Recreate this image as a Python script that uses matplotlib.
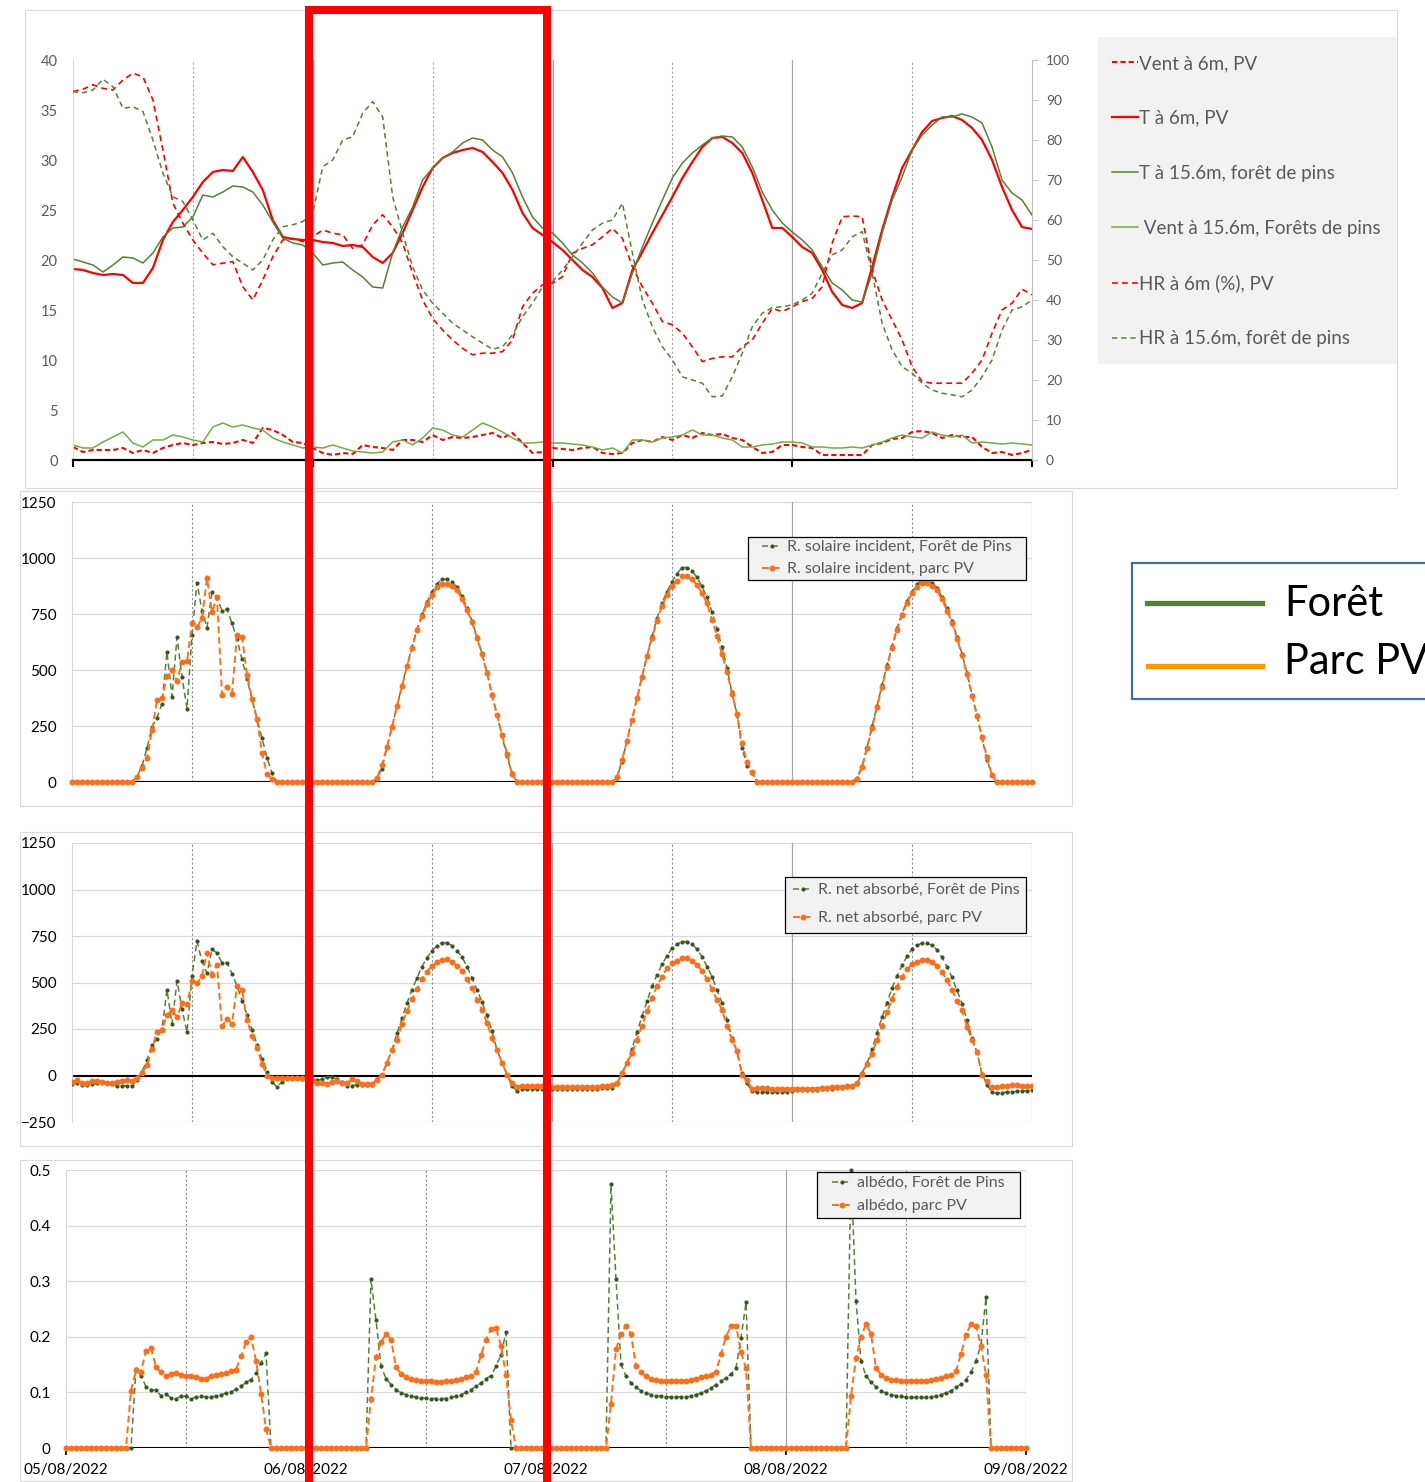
import numpy as np
import matplotlib.pyplot as plt
from matplotlib.patches import Rectangle
from matplotlib.lines import Line2D

plt.rcParams['font.family'] = ['Lato', 'DejaVu Sans']

# --- DONNEES (pas horaire pour le panneau du haut, 05/08 00h -> 09/08 00h) ---
t_pv = [19.1, 19.0, 18.7, 18.5, 18.6, 18.5, 17.7, 17.7, 19.2, 22.0,
        23.8, 25.0, 26.3, 27.8, 28.8, 29.0, 28.9, 30.3, 28.8, 27.0,
        24.0, 22.3, 22.1, 22.0, 22.0, 21.8, 21.7, 21.4, 21.5, 21.3,
        20.3, 19.7, 20.7, 22.7, 25.0, 27.3, 29.2, 30.2, 30.7, 31.0,
        31.2, 30.8, 29.8, 28.7, 27.0, 24.7, 23.2, 22.5, 21.8, 21.0,
        20.0, 19.0, 18.3, 17.2, 15.2, 15.7, 19.0, 20.8, 22.7, 24.5,
        26.3, 28.2, 29.8, 31.3, 32.2, 32.3, 31.7, 30.7, 28.7, 26.0,
        23.2, 23.2, 22.3, 21.3, 20.7, 19.0, 16.8, 15.5, 15.2, 15.7,
        19.3, 23.0, 26.3, 29.2, 31.0, 32.8, 33.9, 34.2, 34.4, 34.0,
        33.2, 32.0, 30.0, 27.3, 25.0, 23.3, 23.1]
t_foret = [20.1, 19.8, 19.5, 18.8, 19.5, 20.3, 20.2, 19.7, 20.7, 22.3,
           23.2, 23.3, 24.3, 26.5, 26.3, 26.8, 27.4, 27.3, 26.8, 25.5,
           23.8, 22.2, 21.7, 21.5, 20.7, 19.5, 19.7, 19.8, 19.0, 18.3,
           17.3, 17.2, 20.7, 23.3, 25.3, 28.0, 29.2, 30.2, 30.8, 31.7,
           32.2, 32.0, 31.0, 30.3, 28.7, 26.3, 24.3, 23.2, 22.7, 21.7,
           20.5, 19.7, 18.7, 17.3, 16.3, 15.7, 18.7, 21.3, 23.7, 26.0,
           28.2, 29.7, 30.7, 31.5, 32.2, 32.4, 32.3, 31.3, 29.3, 26.8,
           25.0, 23.7, 22.8, 22.0, 21.0, 19.3, 17.7, 17.0, 16.0, 15.8,
           18.7, 22.7, 26.0, 28.3, 31.0, 32.5, 33.5, 34.3, 34.3, 34.6,
           34.3, 33.7, 31.3, 28.0, 26.7, 26.0, 24.5]
hr_pv = [92.1, 92.7, 93.8, 92.9, 92.5, 95.0, 96.7, 95.8, 90.0, 77.5,
         64.2, 59.2, 55.0, 51.7, 48.8, 49.2, 49.6, 43.3, 40.0, 45.0,
         50.8, 55.0, 55.4, 54.6, 55.8, 57.5, 56.7, 56.3, 52.9, 53.8,
         58.8, 61.3, 58.3, 54.2, 46.7, 40.0, 35.4, 32.5, 30.0, 27.9,
         26.3, 26.7, 26.7, 27.1, 30.0, 38.3, 41.7, 43.8, 44.2, 45.8,
         51.7, 52.9, 53.8, 55.8, 57.9, 55.4, 48.3, 43.3, 39.2, 34.6,
         33.8, 31.7, 28.3, 24.6, 25.4, 25.8, 25.8, 28.3, 30.0, 34.2,
         37.9, 37.1, 38.3, 39.6, 40.4, 43.3, 54.2, 60.8, 61.0, 60.8,
         47.5, 40.0, 35.0, 30.0, 23.3, 19.6, 19.2, 19.2, 19.2, 19.2,
         21.7, 25.0, 31.7, 37.5, 39.2, 42.7, 41.3]
hr_foret = [92.1, 91.8, 92.5, 95.2, 93.3, 87.9, 88.3, 87.1, 80.0, 71.7,
            65.8, 64.6, 60.0, 55.0, 56.7, 53.3, 50.8, 49.2, 47.5, 50.0,
            55.0, 58.3, 58.8, 59.6, 61.7, 73.3, 75.0, 80.0, 80.8, 86.7,
            89.6, 85.8, 65.8, 56.7, 48.3, 42.5, 39.2, 36.7, 34.2, 32.5,
            30.8, 29.2, 27.7, 28.3, 31.3, 35.8, 39.2, 43.3, 44.6, 47.5,
            50.8, 54.2, 57.5, 59.2, 60.0, 64.2, 51.7, 40.0, 33.3, 28.3,
            25.0, 20.8, 20.0, 19.2, 15.8, 16.0, 20.8, 26.7, 33.3, 36.7,
            38.1, 38.3, 38.8, 40.0, 41.7, 46.7, 51.3, 52.5, 55.8, 57.1,
            46.7, 34.2, 27.5, 23.3, 21.7, 19.2, 17.5, 16.7, 16.3, 15.8,
            17.5, 20.8, 25.0, 32.5, 37.5, 38.3, 40.0]
vent_pv = [1.3, 0.8, 1.0, 1.0, 1.0, 1.2, 0.7, 1.0, 0.7, 1.2,
           1.5, 1.7, 1.5, 1.7, 1.8, 1.6, 1.7, 2.0, 1.7, 3.2,
           3.0, 2.5, 1.8, 1.7, 1.2, 0.7, 0.5, 0.7, 0.6, 1.5,
           1.3, 1.2, 1.0, 2.0, 2.0, 1.8, 2.5, 2.0, 2.3, 2.2,
           2.3, 2.5, 2.7, 2.2, 2.7, 1.7, 0.7, 0.8, 1.2, 1.1,
           1.0, 1.2, 1.3, 0.7, 0.6, 0.7, 1.7, 2.0, 1.8, 2.3,
           2.0, 2.5, 2.2, 2.7, 2.5, 2.6, 2.2, 2.0, 1.3, 0.7,
           0.8, 1.5, 1.5, 1.3, 1.2, 0.5, 0.5, 0.5, 0.5, 0.5,
           1.5, 1.7, 2.1, 2.2, 2.8, 2.9, 2.7, 2.2, 2.5, 2.3,
           2.3, 1.3, 0.7, 0.8, 0.5, 0.7, 1.0]
vent_foret = [1.5, 1.2, 1.2, 1.8, 2.3, 2.8, 1.7, 1.3, 2.0, 2.0,
              2.5, 2.3, 2.0, 1.8, 3.3, 3.7, 3.3, 3.5, 3.2, 3.0,
              2.2, 1.8, 1.5, 1.2, 1.3, 1.2, 1.5, 1.2, 0.9, 0.8,
              0.7, 0.8, 1.8, 2.0, 1.5, 2.2, 3.2, 3.0, 2.5, 2.3,
              3.0, 3.7, 3.3, 2.8, 2.2, 1.7, 1.7, 1.8, 1.7, 1.7,
              1.6, 1.5, 1.3, 1.0, 1.2, 0.7, 2.0, 2.0, 1.8, 2.2,
              2.3, 2.5, 3.0, 2.5, 2.5, 2.2, 2.0, 1.3, 1.3, 1.5,
              1.6, 1.8, 1.8, 1.7, 1.3, 1.3, 1.2, 1.2, 1.3, 1.2,
              1.5, 1.8, 2.2, 2.5, 2.3, 2.2, 2.8, 2.5, 2.3, 2.5,
              1.7, 1.8, 1.7, 1.6, 1.7, 1.6, 1.5]

# --- DONNEES au pas de 30 min : par jour, valeurs de 6h30 (i=13) a 20h00 (i=40) ---
sol_foret_jour = [
    [24, 72, 151, 245, 287, 350, 581, 381, 646, 469, 327, 656, 890, 764, 689, 846, 824, 765, 771, 709, 637, 547, 460, 371, 278, 196, 108, 39],
    [15, 60, 155, 245, 340, 430, 520, 602, 684, 748, 804, 849, 885, 905, 905, 893, 870, 830, 775, 720, 648, 575, 490, 392, 300, 205, 115, 40],
    [20, 90, 185, 278, 374, 469, 562, 650, 730, 800, 850, 895, 930, 957, 957, 943, 913, 873, 824, 759, 682, 604, 507, 400, 300, 151, 73, 40],
    [20, 70, 155, 248, 340, 432, 522, 605, 688, 752, 808, 850, 882, 902, 902, 890, 866, 826, 775, 720, 648, 572, 488, 390, 298, 195, 100, 30]]
sol_pv_jour = [
    [21, 61, 105, 230, 365, 375, 472, 502, 449, 537, 538, 709, 690, 733, 909, 760, 825, 390, 425, 393, 655, 649, 478, 372, 283, 129, 36, 12],
    [18, 75, 158, 245, 338, 428, 517, 598, 679, 740, 794, 834, 869, 882, 884, 873, 857, 816, 767, 715, 643, 570, 486, 389, 299, 211, 126, 36],
    [24, 96, 185, 278, 374, 469, 562, 644, 719, 786, 837, 876, 898, 918, 918, 906, 879, 843, 797, 722, 652, 570, 490, 395, 305, 173, 91, 46],
    [15, 65, 150, 240, 335, 425, 515, 600, 680, 745, 800, 842, 872, 888, 888, 876, 855, 815, 765, 712, 640, 565, 480, 385, 295, 200, 110, 30]]

# rayonnement net : nuit (i=0..12), jour (i=13..40), soir (i=41..47)
net_foret_nuit = [
    [-45, -40, -50, -50, -48, -42, -40, -42, -44, -55, -55, -55, -55],
    [-30, -25, -21, -7, -9, -21, -36, -54, -54, -50, -50, -50, -50],
    [-72, -72, -72, -72, -72, -72, -72, -70, -70, -70, -68, -68, -66],
    [-82, -80, -80, -78, -78, -76, -75, -72, -70, -68, -66, -64, -62]]
net_foret_jour = [
    [-25, 21, 82, 164, 196, 252, 461, 277, 509, 357, 232, 536, 723, 613, 550, 680, 657, 607, 607, 547, 482, 402, 327, 246, 166, 89, 21, -34],
    [-18, 5, 68, 139, 228, 309, 389, 461, 523, 586, 634, 671, 698, 714, 714, 698, 671, 636, 586, 523, 461, 395, 323, 238, 139, 68, 5, -57],
    [-48, 14, 68, 143, 234, 318, 398, 479, 541, 598, 643, 684, 705, 720, 720, 705, 680, 639, 586, 532, 461, 389, 300, 202, 130, 14, -43, -84],
    [-45, 12, 65, 140, 230, 312, 392, 470, 535, 592, 640, 680, 700, 712, 712, 700, 676, 635, 584, 528, 458, 385, 298, 200, 125, 10, -50, -90]]
net_foret_soir = [
    [-61, -34, -12, -12, -15, -18, -25],
    [-84, -75, -72, -72, -72, -72, -72],
    [-89, -89, -89, -89, -89, -89, -89],
    [-95, -92, -90, -88, -86, -84, -82]]
net_pv_nuit = [
    [-34, -25, -38, -40, -32, -29, -34, -40, -40, -34, -30, -25, -29],
    [-25, -39, -43, -48, -36, -30, -39, -39, -21, -30, -48, -48, -48],
    [-62, -62, -62, -62, -62, -62, -62, -62, -60, -60, -58, -55, -52],
    [-72, -72, -72, -70, -70, -70, -68, -66, -64, -62, -60, -58, -55]]
net_pv_jour = [
    [-14, 16, 54, 143, 236, 246, 323, 352, 313, 388, 382, 509, 496, 536, 661, 543, 595, 264, 304, 279, 479, 461, 300, 211, 148, 62, 0, -11],
    [-25, 5, 68, 139, 193, 277, 345, 411, 464, 518, 559, 589, 609, 621, 625, 611, 589, 564, 518, 471, 407, 354, 282, 202, 139, 68, 5, -39],
    [-39, 11, 68, 121, 193, 268, 345, 416, 482, 532, 577, 604, 618, 630, 630, 616, 595, 563, 518, 464, 407, 354, 264, 193, 130, 5, -25, -70],
    [-40, 8, 62, 118, 190, 265, 340, 410, 478, 528, 572, 598, 612, 620, 620, 608, 588, 556, 512, 460, 402, 350, 262, 190, 128, 2, -30, -60]]
net_pv_soir = [
    [-12, -12, -12, -14, -14, -16, -18],
    [-62, -57, -55, -55, -55, -55, -55],
    [-66, -68, -68, -70, -70, -70, -70],
    [-60, -58, -55, -52, -52, -55, -55]]
net_dernier = (-80, -58)

# albedo : valeurs de i=13 a i=41
alb_foret_jour = [
    [0, 0.142, 0.13, 0.11, 0.105, 0.104, 0.094, 0.098, 0.09, 0.088, 0.094, 0.093, 0.089, 0.092, 0.093, 0.092, 0.092, 0.093, 0.095, 0.099, 0.1, 0.106, 0.111, 0.118, 0.123, 0.135, 0.153, 0.17, 0],
    [0.304, 0.23, 0.147, 0.125, 0.114, 0.105, 0.099, 0.096, 0.093, 0.092, 0.09, 0.09, 0.089, 0.089, 0.089, 0.089, 0.091, 0.093, 0.096, 0.1, 0.105, 0.111, 0.117, 0.125, 0.13, 0.147, 0.168, 0.208, 0],
    [0.474, 0.304, 0.151, 0.129, 0.117, 0.109, 0.103, 0.099, 0.096, 0.094, 0.093, 0.092, 0.092, 0.092, 0.092, 0.092, 0.093, 0.096, 0.099, 0.103, 0.108, 0.114, 0.12, 0.126, 0.133, 0.144, 0.198, 0.262, 0],
    [0.5, 0.265, 0.156, 0.13, 0.118, 0.11, 0.102, 0.099, 0.096, 0.094, 0.093, 0.091, 0.091, 0.091, 0.091, 0.091, 0.092, 0.093, 0.096, 0.099, 0.103, 0.109, 0.115, 0.123, 0.136, 0.157, 0.186, 0.271, 0]]
alb_pv_jour = [
    [0.103, 0.14, 0.137, 0.175, 0.18, 0.146, 0.136, 0.13, 0.133, 0.135, 0.131, 0.13, 0.13, 0.128, 0.125, 0.125, 0.129, 0.132, 0.133, 0.134, 0.138, 0.141, 0.165, 0.19, 0.2, 0.157, 0.098, 0.035, 0],
    [0.088, 0.163, 0.19, 0.205, 0.195, 0.146, 0.133, 0.128, 0.125, 0.122, 0.121, 0.12, 0.12, 0.119, 0.119, 0.12, 0.12, 0.122, 0.124, 0.127, 0.13, 0.137, 0.167, 0.195, 0.214, 0.216, 0.183, 0.132, 0.05],
    [0.08, 0.178, 0.205, 0.22, 0.205, 0.147, 0.136, 0.129, 0.125, 0.122, 0.121, 0.121, 0.121, 0.121, 0.121, 0.121, 0.123, 0.125, 0.127, 0.13, 0.132, 0.137, 0.169, 0.2, 0.22, 0.22, 0.173, 0.143, 0],
    [0.093, 0.161, 0.2, 0.223, 0.205, 0.144, 0.132, 0.126, 0.123, 0.122, 0.12, 0.12, 0.12, 0.12, 0.12, 0.12, 0.122, 0.124, 0.126, 0.129, 0.132, 0.138, 0.169, 0.204, 0.223, 0.219, 0.184, 0.132, 0]]

dates = ['05/08/2022', '06/08/2022', '07/08/2022', '08/08/2022', '09/08/2022']


def assemble(debut, jour, fin, dernier):
    serie = []
    for d in range(4):
        serie += debut[d] + jour[d] + fin[d]
    return np.array(serie + [dernier], dtype=float)


zeros_nuit = [[0] * 13] * 4
sol_foret = assemble(zeros_nuit, sol_foret_jour, [[0] * 7] * 4, 0)
sol_pv = assemble(zeros_nuit, sol_pv_jour, [[0] * 7] * 4, 0)
net_foret = assemble(net_foret_nuit, net_foret_jour, net_foret_soir, net_dernier[0])
net_pv = assemble(net_pv_nuit, net_pv_jour, net_pv_soir, net_dernier[1])
alb_foret = assemble(zeros_nuit, alb_foret_jour, [[0] * 6] * 4, 0)
alb_pv = assemble(zeros_nuit, alb_pv_jour, [[0] * 6] * 4, 0)

x_h = np.arange(len(t_pv)) / 24
x_d = np.arange(len(sol_pv)) / 48

# --- FIGURE ---
W, H = 1425, 1482
fig = plt.figure(figsize=(W / 100, H / 100), dpi=100)


def fx(px):
    return px / W


def fy(py):
    return 1 - py / H


def box(x0, y0, x1, y1):
    return [fx(x0), fy(y1), fx(x1) - fx(x0), fy(y0) - fy(y1)]


def cadre(x0, y0, x1, y1, **kw):
    r = Rectangle((fx(x0), fy(y1)), fx(x1) - fx(x0), fy(y0) - fy(y1),
                  transform=fig.transFigure, **kw)
    fig.add_artist(r)
    return r


cadre(25, 10, 1397, 488, fill=False, ec='#D9D9D9', lw=0.8, zorder=-2)
cadre(1098, 37, 1397, 364, fc='#F2F2F2', ec='none', zorder=-1)
for y0, y1 in [(491, 806), (832, 1146), (1160, 1481)]:
    cadre(20, y0, 1072, y1, fill=False, ec='#D9D9D9', lw=0.8, zorder=-2)

GRIS = '#595959'
VERT = '#548235'
VERT_CLAIR = '#70AD47'
ROUGE = '#FF0000'
ORANGE = '#FF6F1A'
VERT_FONCE = '#375623'

# --- panneau du haut ---
ax1 = fig.add_axes(box(73, 60, 1032, 460))
ax1b = ax1.twinx()
for j in [0.5, 1.5, 2.5, 3.5]:
    ax1.axvline(j, color='#A6A6A6', lw=0.8, ls=(0, (2, 2)), zorder=0)
for j in [1, 2, 3]:
    ax1.axvline(j, color='#A6A6A6', lw=0.9, zorder=0)

l1, = ax1.plot(x_h, vent_pv, color=ROUGE, lw=1.5, dashes=(2.5, 1.5))
l2, = ax1.plot(x_h, t_pv, color=ROUGE, lw=1.6)
l3, = ax1.plot(x_h, t_foret, color=VERT, lw=1.1)
l4, = ax1.plot(x_h, vent_foret, color=VERT_CLAIR, lw=1.1)
l5, = ax1b.plot(x_h, hr_pv, color=ROUGE, lw=1.2, dashes=(3.5, 2.5))
l6, = ax1b.plot(x_h, hr_foret, color=VERT, lw=1.1, dashes=(3.5, 2.5))

ax1.set_xlim(0, 4)
ax1.set_ylim(0, 40)
ax1.set_yticks(np.arange(0, 41, 5))
ax1b.set_ylim(0, 100)
ax1b.set_yticks(np.arange(0, 101, 10))
ax1.set_xticks(range(5))
ax1.set_xticklabels([])
ax1.tick_params(axis='x', length=5, width=1.5, color='black', direction='out')
ax1.tick_params(axis='y', length=0, pad=11, labelsize=10.5, labelcolor=GRIS)
ax1b.tick_params(axis='y', length=4, color='#BFBFBF', pad=6, labelsize=10, labelcolor=GRIS)
for a in (ax1, ax1b):
    a.spines['top'].set_visible(False)
ax1.spines['left'].set_color('#D9D9D9')
ax1b.spines['left'].set_visible(False)
ax1b.spines['right'].set_color('#BFBFBF')
ax1b.spines['bottom'].set_visible(False)
ax1.spines['right'].set_visible(False)
ax1.spines['bottom'].set_color('black')
ax1.spines['bottom'].set_linewidth(1.6)

fig.legend([l1, l2, l3, l4, l5, l6],
           ['Vent à 6m, PV', 'T à 6m, PV', 'T à 15.6m, forêt de pins',
            ' Vent à 15.6m, Forêts de pins', 'HR à 6m (%), PV',
            'HR à 15.6m, forêt de pins'],
           loc='upper left', bbox_to_anchor=(fx(1112), fy(55)),
           frameon=False, fontsize=13.5, labelcolor=GRIS, handlelength=1.4,
           handletextpad=0.05, labelspacing=2.02, borderaxespad=0, borderpad=0)


# --- panneaux du bas ---
def style_panel(ax, ymin, ymax, step):
    ax.set_xlim(0, 4)
    ax.set_ylim(ymin, ymax)
    ax.grid(axis='y', color='#D9D9D9', lw=0.9)
    ax.set_axisbelow(True)
    for s in ['top', 'right', 'bottom']:
        ax.spines[s].set_visible(False)
    ax.spines['left'].set_color('#D9D9D9')
    ax.tick_params(axis='y', length=0, pad=11, labelsize=11, labelcolor='black')
    for j in [0.5, 1.5, 2.5, 3.5]:
        ax.axvline(j, color='#8C8C8C', lw=0.8, ls=(0, (2, 2)), zorder=1)
    for j in [1, 2, 3, 4]:
        ax.axvline(j, color='#A6A6A6', lw=0.9, zorder=1)
    ax.axhline(0, color='black', lw=1.5, zorder=2)


def tracer(ax, y_foret, y_pv, lab_foret, lab_pv, clip):
    a, = ax.plot(x_d, y_foret, color=VERT, lw=1.1, dashes=(4, 2.5), marker='o',
                 ms=3.0, mfc=VERT_FONCE, mec=VERT_FONCE, mew=0, clip_on=clip,
                 zorder=3, label=lab_foret)
    b, = ax.plot(x_d, y_pv, color=ORANGE, lw=1.4, dashes=(3.5, 2), marker='o',
                 ms=4.3, mfc=ORANGE, mec=ORANGE, mew=0, clip_on=clip,
                 zorder=4, label=lab_pv)
    return a, b


def legende(ax, cadre_px, x_poignee, y_haut, spacing):
    x0, y0, x1, y1 = cadre_px
    r = Rectangle((fx(x0), fy(y1)), fx(x1) - fx(x0), fy(y0) - fy(y1),
                  transform=fig.transFigure, fc='#F2F2F2', ec='black',
                  lw=0.9, clip_on=False, zorder=4.5)
    ax.add_artist(r)
    ax.legend(loc='upper left', bbox_to_anchor=(fx(x_poignee), fy(y_haut)),
              bbox_transform=fig.transFigure, borderaxespad=0, frameon=False,
              fontsize=11.5, labelcolor=GRIS, handlelength=1.25,
              handletextpad=0.3, labelspacing=spacing, borderpad=0)


ax2 = fig.add_axes(box(72, 502, 1032, 782))
style_panel(ax2, 0, 1250, 250)
ax2.set_yticks(np.arange(0, 1251, 250))
ax2.set_xticks([])
tracer(ax2, sol_foret, sol_pv, 'R. solaire incident, Forêt de Pins',
       'R. solaire incident, parc PV', False)
legende(ax2, (748, 537, 1026, 580), 762, 540, 0.49)

ax3 = fig.add_axes(box(72, 843, 1032, 1122))
style_panel(ax3, -250, 1250, 250)
ax3.set_yticks(np.arange(-250, 1251, 250))
ax3.set_xticks([])
tracer(ax3, net_foret, net_pv, 'R. net absorbé, Forêt de Pins',
       'R. net absorbé, parc PV', True)
legende(ax3, (785, 877, 1026, 933), 793, 883, 0.86)

ax4 = fig.add_axes(box(66, 1170, 1026, 1448))
style_panel(ax4, 0, 0.5, 0.1)
ax4.set_yticks(np.arange(0, 0.51, 0.1))
ax4.set_yticklabels(['0', '0.1', '0.2', '0.3', '0.4', '0.5'])
ax4.set_xticks(range(5))
ax4.set_xticklabels(dates)
ax4.tick_params(axis='x', length=5, width=1.2, color='black', pad=6,
                labelsize=11, labelcolor='black')
tracer(ax4, alb_foret, alb_pv, 'albédo, Forêt de Pins', 'albédo, parc PV', False)
legende(ax4, (817, 1172, 1020, 1218), 832, 1176, 0.55)

# --- legende de droite ---
cadre(1132, 563, 1440, 699, fc='white', ec='#41719C', lw=1.6, zorder=5)
fig.add_artist(Line2D([fx(1147), fx(1262)], [fy(603), fy(603)], color=VERT,
                      lw=3.8, transform=fig.transFigure, zorder=6))
fig.add_artist(Line2D([fx(1148), fx(1262)], [fy(666), fy(666)], color='#FF9900',
                      lw=3.8, transform=fig.transFigure, zorder=6))
fig.text(fx(1284), fy(604), 'Forêt', fontsize=30, va='center', ha='left', zorder=7)
fig.text(fx(1284), fy(662), 'Parc PV', fontsize=30, va='center', ha='left', zorder=7)

# --- rectangle rouge ---
cadre(309, 10, 547, 1500, fill=False, ec='#FF0000', lw=5.8, zorder=20)

fig.savefig('out.png', dpi=100, facecolor='white')
